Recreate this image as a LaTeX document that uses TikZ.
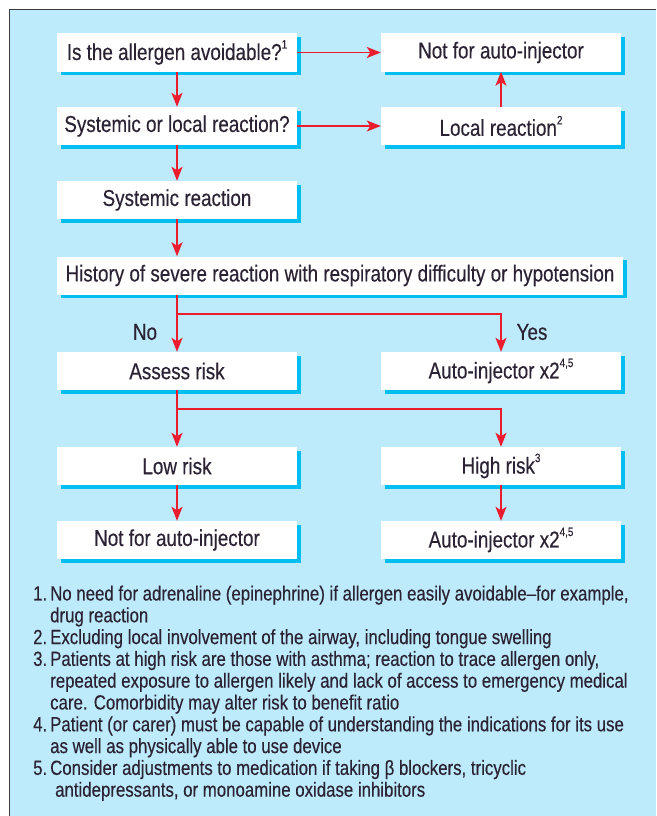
\documentclass[tikz,border=0pt]{standalone}
\usepackage{fontspec}
\newfontfamily\chartfont{Liberation Sans}[FakeStretch=0.82,FakeBold=0.3]
\usepackage{tikz}
\usetikzlibrary{arrows.meta,shadows,calc}
\definecolor{panelblue}{HTML}{BDEBFB}
\definecolor{shadowcyan}{HTML}{00BEF0}
\definecolor{flowred}{HTML}{EB1C2E}
\definecolor{inkdark}{HTML}{2B2233}
\definecolor{framegray}{HTML}{3C3C3C}
\newcommand{\supmark}[1]{\raisebox{0.5em}{\fontsize{12}{12}\selectfont #1}}

\begin{document}
\begin{tikzpicture}[x=1pt,y=-1pt,
  box/.style={fill=white, minimum width=240pt, minimum height=38pt, inner sep=0pt,
    font=\chartfont\fontsize{23}{26}\selectfont, text=inkdark,
    drop shadow={shadow xshift=3.5pt, shadow yshift=-3.5pt, fill=shadowcyan, opacity=1}},
  widebox/.style={box, minimum width=566pt},
  lbl/.style={font=\chartfont\fontsize{23}{26}\selectfont, text=inkdark, inner sep=0pt},
  flow/.style={draw=flowred, line width=1.6pt, -{Stealth[length=14pt,width=11pt,inset=3.5pt]}},
  link/.style={draw=flowred, line width=1.6pt}]
\useasboundingbox (0,0) rectangle (656,816);
\fill[panelblue] (9.5,9.5) rectangle (656,816);
\draw[framegray, line width=1.5pt] (656,9.5) -- (9.5,9.5) -- (9.5,816);

\node[box] (avoidable) at (177,52.5) {Is the allergen avoidable?\supmark{1}};
\node[box] (notinjA) at (501,52.5) {Not for auto-injector};
\node[box] (sysorlocal) at (177,126) {Systemic or local reaction?};
\node[box] (localreact) at (501,126) {Local reaction\supmark{2}};
\node[box] (systemic) at (177,200) {Systemic reaction};
\node[widebox] (history) at (340,275.5) {History of severe reaction with respiratory difficulty or hypotension};
\node[box] (assess) at (177,371) {Assess risk};
\node[box] (injectorA) at (501,371) {Auto-injector x2\supmark{4,5}};
\node[box] (lowrisk) at (177,466) {Low risk};
\node[box] (highrisk) at (501,466) {High risk\supmark{3}};
\node[box] (notinjB) at (177,540) {Not for auto-injector};
\node[box] (injectorB) at (501,540) {Auto-injector x2\supmark{4,5}};

\node[lbl] (no) at (145,332) {No};
\node[lbl] (yes) at (532,332) {Yes};

\coordinate (splitA) at (177,314);
\coordinate (splitB) at (177,409);

\draw[flow] (avoidable) -- (notinjA);
\draw[flow] (avoidable) -- (sysorlocal);
\draw[flow] (sysorlocal) -- (localreact);
\draw[flow] (localreact) -- (notinjA);
\draw[flow] (sysorlocal) -- (systemic);
\draw[flow] (systemic) -- (systemic |- history.north);
\draw[flow] (history.south -| assess) -- (assess);
\draw[flow] (splitA) -| (injectorA);
\draw[flow] (assess) -- (lowrisk);
\draw[flow] (splitB) -| (highrisk);
\draw[flow] (lowrisk) -- (notinjB);
\draw[flow] (highrisk) -- (injectorB);

\node[anchor=north west, inner sep=0pt, text=inkdark,
  font=\chartfont\fontsize{20.5}{21.8}\selectfont] (notes) at (33,585)
{\begin{tabular}{@{}r@{\hspace{3pt}}l@{}}
1. & No need for adrenaline (epinephrine) if allergen easily avoidable–for example,\\
   & drug reaction\\
2. & Excluding local involvement of the airway, including tongue swelling\\
3. & Patients at high risk are those with asthma; reaction to trace allergen only,\\
   & repeated exposure to allergen likely and lack of access to emergency medical\\
   & care. Comorbidity may alter risk to benefit ratio\\
4. & Patient (or carer) must be capable of understanding the indications for its use\\
   & as well as physically able to use device\\
5. & Consider adjustments to medication if taking β blockers, tricyclic\\
   & \hspace{5pt}antidepressants, or monoamine oxidase inhibitors
\end{tabular}};
\end{tikzpicture}
\end{document}
